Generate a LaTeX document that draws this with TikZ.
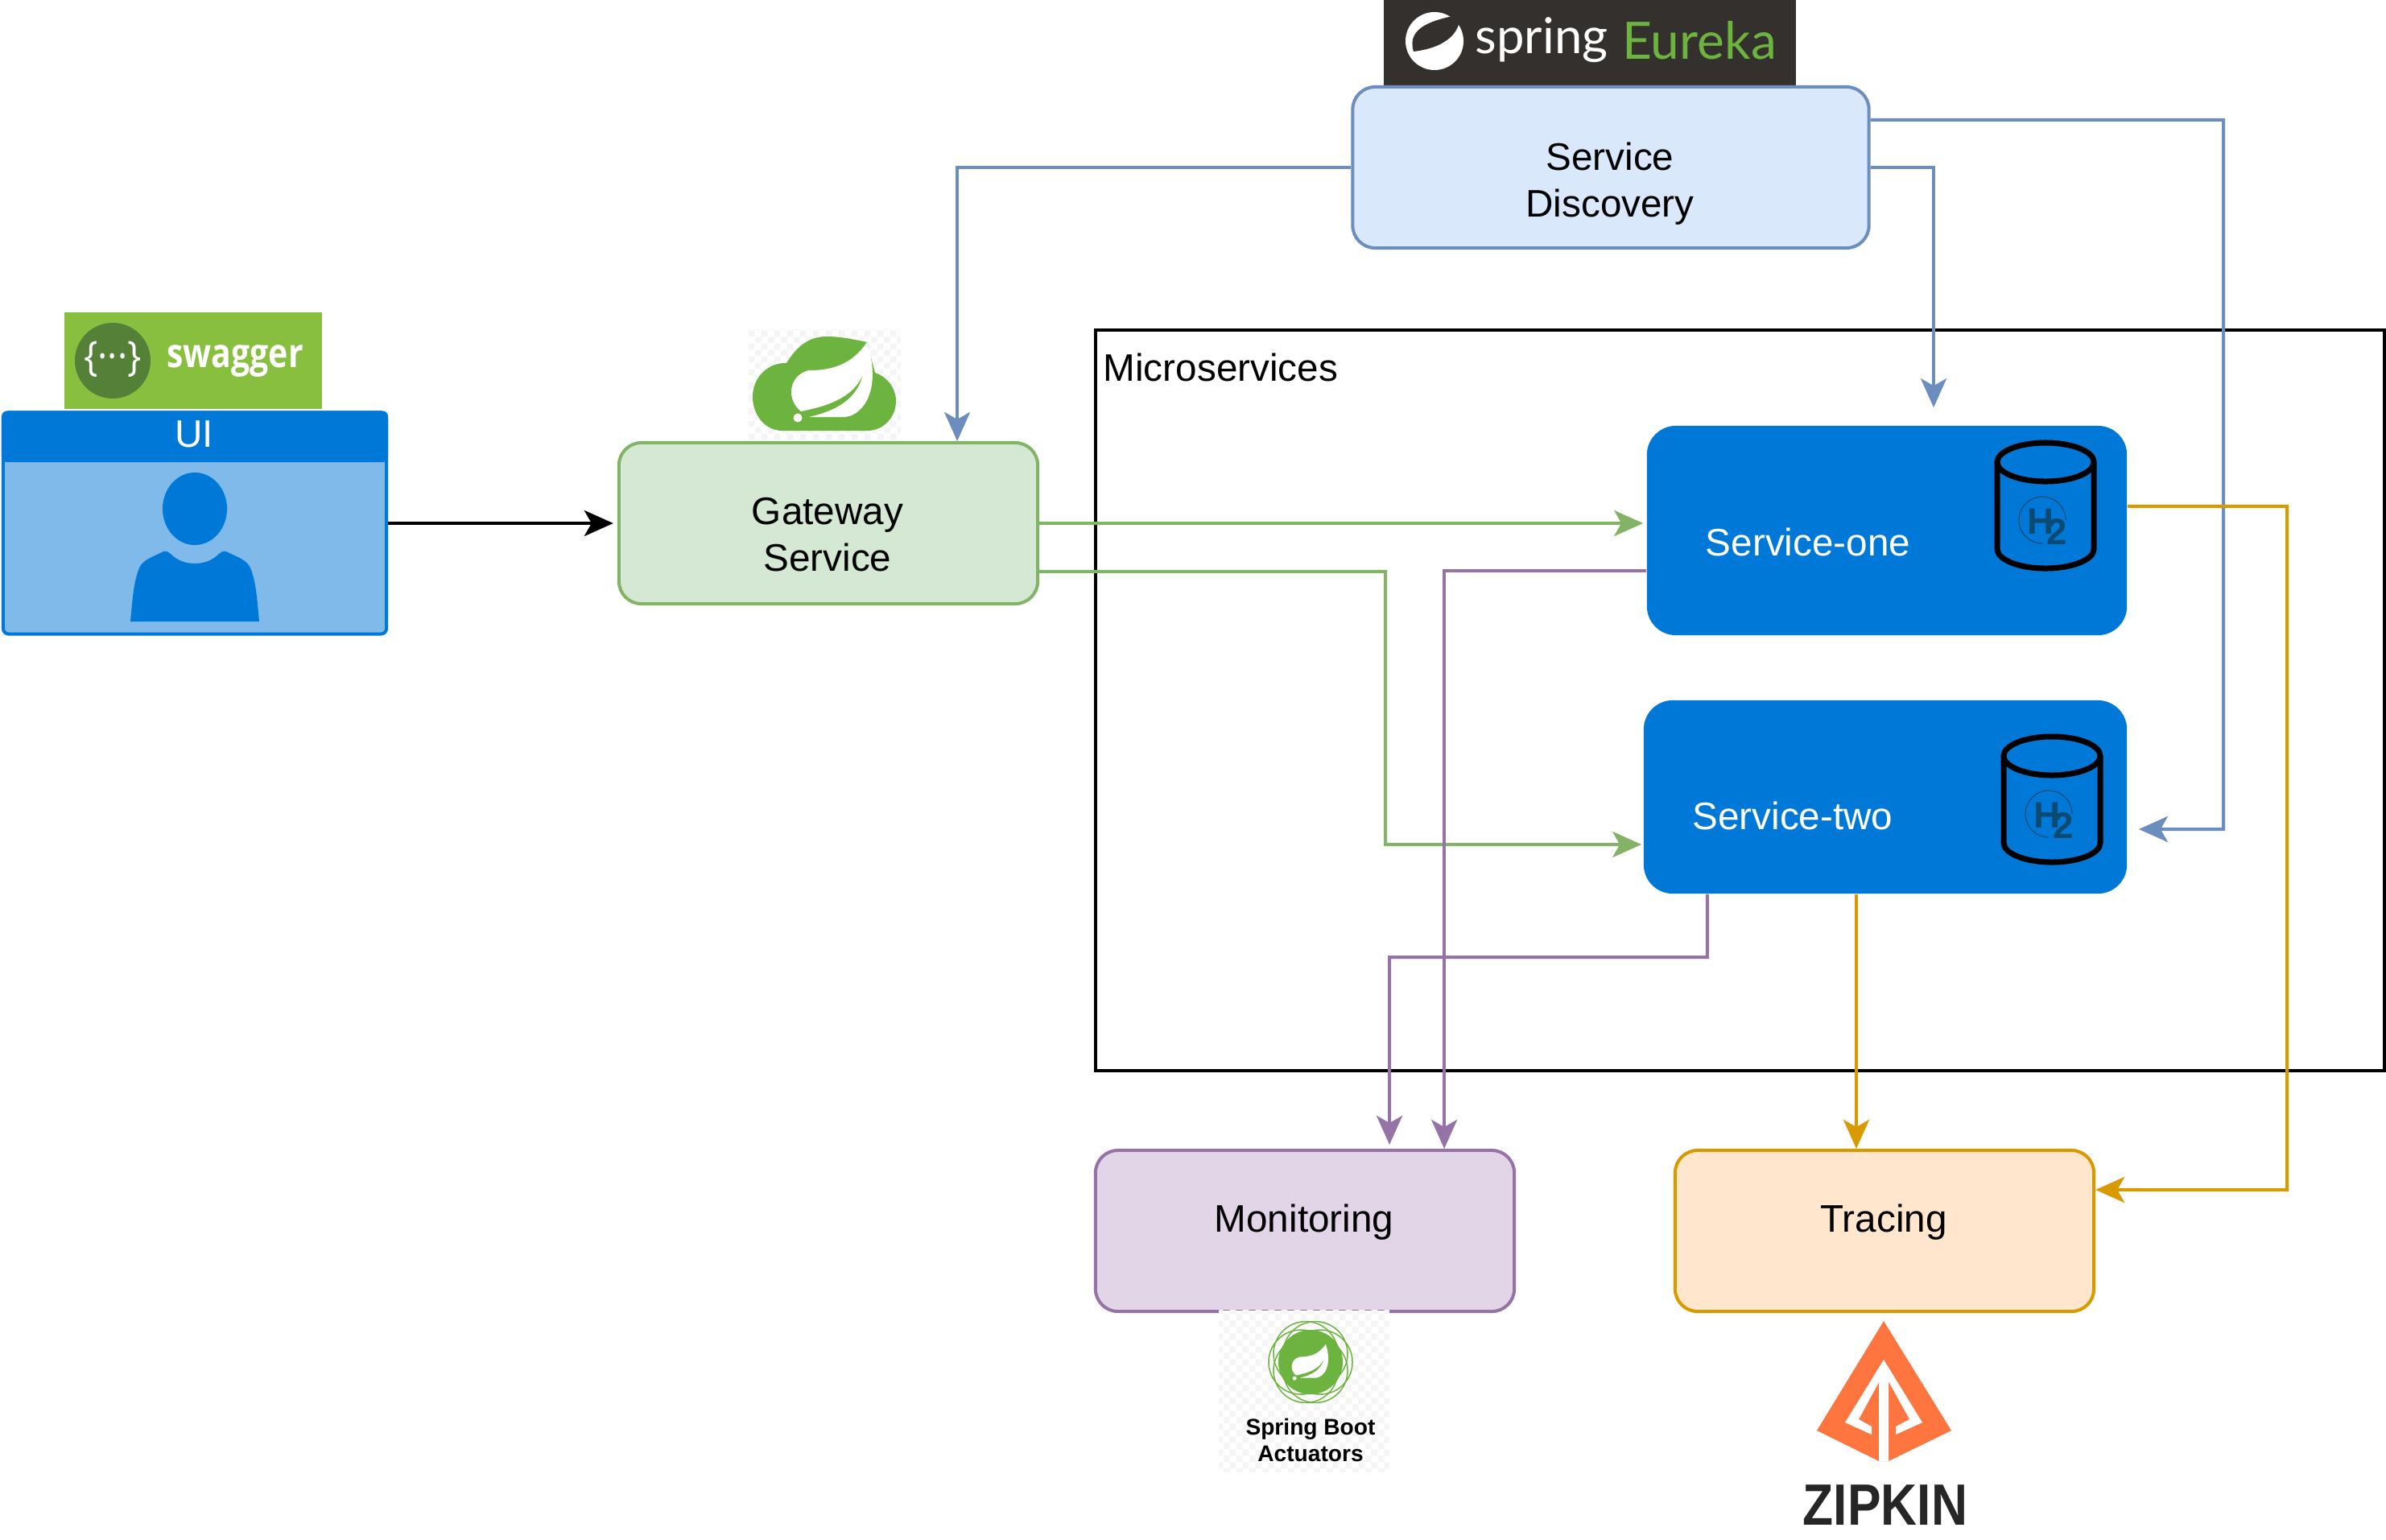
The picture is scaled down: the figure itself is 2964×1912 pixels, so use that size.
\documentclass[tikz,border=0pt]{standalone}
\usepackage{fontspec}
\setmainfont{Liberation Sans}
\newfontfamily\latofont{Lato}
\newfontfamily\opensansfont{Open Sans}
\usepackage{xcolor}
\usepackage{tikz}
\usetikzlibrary{arrows.meta,positioning,patterns}
\definecolor{bluefill}{HTML}{DAE8FC}
\definecolor{blueline}{HTML}{6C8EBF}
\definecolor{greenfill}{HTML}{D5E8D4}
\definecolor{greenline}{HTML}{82B366}
\definecolor{purplefill}{HTML}{E1D5E7}
\definecolor{purpleline}{HTML}{9673A6}
\definecolor{orangefill}{HTML}{FFE6CC}
\definecolor{orangeline}{HTML}{D79B00}
\definecolor{svcblue}{HTML}{0078D7}
\definecolor{svclight}{HTML}{7FBAEA}
\definecolor{springgreen}{HTML}{6DB33F}
\definecolor{eurekabg}{HTML}{34302D}
\definecolor{swaggerbg}{HTML}{89BF3F}
\definecolor{swaggerdark}{HTML}{558038}
\definecolor{zipkinorange}{HTML}{FF7540}
\definecolor{htwoblue}{HTML}{0A4A73}
\pgfdeclarepatternformonly{finecheck}{\pgfqpoint{0pt}{0pt}}{\pgfqpoint{4.6pt}{4.6pt}}{\pgfqpoint{4.6pt}{4.6pt}}{
    \pgfpathrectangle{\pgfqpoint{0pt}{0pt}}{\pgfqpoint{2.3pt}{2.3pt}}
    \pgfpathrectangle{\pgfqpoint{2.3pt}{2.3pt}}{\pgfqpoint{2.3pt}{2.3pt}}
    \pgfusepath{fill}
}

\begin{document}
\begin{tikzpicture}[
    x=0.01cm, y=-0.01cm,
    box/.style={draw, rounded corners=0.28cm, line width=0.04cm, minimum width=#1, minimum height=2cm},
    svcbox/.style={rounded corners=0.36cm, fill=svcblue, minimum width=#1},
    boxtext/.style={align=center, font=\fontsize{13.55}{16.5}\selectfont},
    logopatch/.style={preaction={fill=white}, pattern=finecheck, pattern color=gray!8, inner sep=0pt},
    arr/.style={-{Stealth[length=0.36cm, width=0.32cm, inset=0.09cm]}, line width=0.04cm, line join=miter},
    pics/leafmark/.style={code={
        \fill[#1] (42,-45) .. controls (22,-15) and (-5,-10) .. (-30,-10) .. controls (-54,-5) and (-60,25) .. (-40,41)
            .. controls (-10,35) and (25,25) .. (37,-5) .. controls (30,25) and (5,40) .. (-30,48)
            -- (15,48) .. controls (40,45) and (60,10) .. (42,-45) -- cycle;
        \fill[#1] (-44,49) circle[radius=0.055cm];
    }},
    pics/dbmark/.style={code={
        \draw[line width=0.07cm] (0,-54) ellipse[x radius=0.6cm, y radius=0.24cm];
        \draw[line width=0.07cm] (-60,-54) -- (-60,54) arc[start angle=180, end angle=360, x radius=0.6cm, y radius=0.24cm] -- (60,-54);
    }},
    pics/htwomark/.style={code={
        \draw[htwoblue, line width=0.012cm] (29,0) arc[start angle=0, end angle=270, radius=0.29cm];
        \node[htwoblue, inner sep=0pt, font=\fontsize{13}{13}\bfseries\selectfont] at (-2,2) {H};
        \node[htwoblue, inner sep=0pt, font=\fontsize{13}{13}\bfseries\selectfont] at (18,15) {2};
    }},
]
    \useasboundingbox (0,0) rectangle (2964,1912);

    % Logo above the discovery box
    \node[fill=eurekabg, minimum width=5.11cm, minimum height=1.08cm, inner sep=0pt] (eurekabar) at (1975,53) {};
    \fill[white] (1782,51) circle[radius=0.36cm];
    \fill[eurekabg] (1756,64) .. controls (1746,32) and (1785,24) .. (1814,18) .. controls (1814,45) and (1790,60) .. (1756,64) -- cycle;
    \node[white, inner sep=0pt, font=\latofont\fontsize{17.5}{17.5}\selectfont] (springword) at (1915,50) {spring};
    \node[springgreen, inner sep=0pt, font=\latofont\fontsize{18.2}{18.2}\selectfont] (eurekaword) at (2111,50) {Eureka};

    % Swagger logo
    \node[fill=swaggerbg, minimum width=3.2cm, minimum height=1.2cm, inner sep=0pt] (swaggerbar) at (240,448) {};
    \node[circle, fill=swaggerdark, minimum size=0.94cm, inner sep=0pt] (swaggerdot) at (140,448) {};
    \node[white, inner sep=0pt, xscale=0.9, font=\opensansfont\fontsize{14.5}{14.5}\selectfont] at (140,446) {\{···\}};
    \node[white, inner sep=0pt, xscale=0.82, font=\opensansfont\fontsize{14.2}{14.2}\bfseries\selectfont] (swaggerword) at (292,449) {swagger};

    % UI
    \node[draw=svcblue, fill=svclight, line width=0.04cm, rounded corners=0.07cm, minimum width=4.76cm, minimum height=2.75cm, inner sep=0pt] (ui) at (242,650) {};
    \fill[svcblue, rounded corners=0.07cm] (ui.north west) -- (ui.north east) -- (482,574) -- (2,574) -- cycle;
    \node[boxtext, white, inner sep=0pt] (uitext) at (241,539) {UI};
    \fill[svcblue] (242,632) ellipse[x radius=0.4cm, y radius=0.45cm];
    \fill[svcblue] (162,772) .. controls (165,740) and (166,725) .. (172,708) .. controls (176,695) and (190,692) .. (203,685)
        .. controls (207,684) and (210,686) .. (212,688) .. controls (220,696) and (230,700) .. (242,700)
        .. controls (254,700) and (264,696) .. (272,688) .. controls (274,686) and (277,684) .. (281,685)
        .. controls (294,692) and (308,695) .. (312,708) .. controls (318,725) and (319,740) .. (322,772) -- cycle;

    % Spring cloud logo
    \node[logopatch, minimum width=1.89cm, minimum height=1.37cm] (cloudpatch) at (1024.5,478) {};
    \fill[springgreen] (972,535) .. controls (950,535) and (935,515) .. (935,493) .. controls (935,468) and (955,450) .. (977,451)
        .. controls (990,430) and (1005,418) .. (1027,418) .. controls (1045,418) and (1062,422) .. (1077,425)
        -- (1087,463) .. controls (1102,468) and (1113,482) .. (1113,498) .. controls (1113,518) and (1098,535) .. (1077,535) -- cycle;
    \pic at (1035,470) {leafmark=white};

    % Boxes
    \node[box=5.2cm, draw=greenline, fill=greenfill] (gateway) at (1029,650) {};
    \node[boxtext] (gatewaytext) at (1028,664) {Gateway\\Service};
    \node[box=6.41cm, draw=blueline, fill=bluefill] (disc) at (2001,208) {};
    \node[boxtext] (disctext) at (2000,228) {Service\\Discovery};
    \node[draw=black, line width=0.04cm, minimum width=16cm, minimum height=9.19cm] (micro) at (2161,870) {};
    \node[boxtext, anchor=west, inner sep=0pt] (microtext) at (1370,456) {Microservices};

    % Services
    \node[svcbox=5.96cm, minimum height=2.6cm] (svcone) at (2344,659) {};
    \node[boxtext, white, inner sep=0pt] (svconetext) at (2246,673) {Service-one};
    \node[svcbox=6cm, minimum height=2.4cm] (svctwo) at (2342,990) {};
    \node[boxtext, white, inner sep=0pt] (svctwotext) at (2227,1013) {Service-two};
    \pic at (2541,628) {dbmark};
    \pic at (2549,993) {dbmark};
    \pic at (2537,646) {htwomark};
    \pic at (2545,1011) {htwomark};

    \node[box=5.2cm, draw=purpleline, fill=purplefill] (monitor) at (1621,1529) {};
    \node[boxtext] (monitortext) at (1620,1518) {Monitoring};
    \node[box=5.2cm, draw=orangeline, fill=orangefill] (tracing) at (2341,1529) {};
    \node[boxtext] (tracingtext) at (2340,1518) {Tracing};

    % Actuators logo
    \node[logopatch, minimum width=2.11cm, minimum height=2cm] (actpatch) at (1620,1728) {};
    \fill[springgreen] (1628,1692) circle[radius=0.4cm];
    \foreach \a in {0,60,...,300}
        \draw[springgreen, line width=0.015cm] ([shift={(\a:0.12cm)}]1628,1692) circle[radius=0.4cm];
    \pic[scale=0.45] at (1628,1690) {leafmark=white};
    \node[inner sep=0pt, align=center, font=\fontsize{8}{9.6}\bfseries\selectfont] (acttext) at (1628,1789) {Spring Boot\\Actuators};

    % Zipkin logo
    \fill[zipkinorange] (2340,1641) -- (2424,1777) -- (2346,1815) -- (2334,1815) -- (2257,1777) -- cycle;
    \fill[white] (2340,1689) -- (2388,1767) -- (2355,1782) -- (2355,1772) -- (2372,1763) -- (2346,1716) -- (2346,1815)
        -- (2334,1815) -- (2334,1717) -- (2309,1763) -- (2325,1772) -- (2325,1782) -- (2292,1767) -- cycle;
    \node[inner sep=0pt, text=black!85, xscale=0.86, font=\fontsize{20.6}{20.6}\bfseries\selectfont] (zipkinword) at (2342,1870) {ZIPKIN};

    % Connectors
    \coordinate (discturn) at (2762,1030);
    \coordinate (gwturn) at (1721,1049);
    \coordinate (twoturn) at (1726,1189);
    \coordinate (oneturn) at (2841,1478);

    \draw[arr] (ui.east) -- ([xshift=-0.05cm]gateway.west);

    \draw[arr, blueline] (disc.west) -| ([xshift=1.6cm]gateway.north);
    \draw[arr, blueline] (disc.east) -| ([xshift=0.58cm, yshift=0.22cm]svcone.north);
    \draw[arr, blueline] ([yshift=0.59cm]disc.east) -| (discturn) -- ([xshift=0.14cm, yshift=-0.4cm]svctwo.east);

    \draw[arr, greenline] (gateway.east) -- ([xshift=-0.04cm, yshift=0.09cm]svcone.west);
    \draw[arr, greenline] ([yshift=-0.6cm]gateway.east) -| (gwturn) -- ([xshift=-0.02cm, yshift=-0.59cm]svctwo.west);

    \draw[arr, purpleline] ([yshift=-0.5cm]svcone.west) -| ([xshift=1.73cm]monitor.north);
    \draw[arr, purpleline] ([xshift=-2.21cm]svctwo.south) |- (twoturn) -- ([xshift=1.05cm, yshift=0.05cm]monitor.north);

    \draw[arr, orangeline] ([xshift=-0.36cm]svctwo.south) -- ([xshift=-0.35cm]tracing.north);
    \draw[arr, orangeline] ([yshift=0.3cm]svcone.east) -| (oneturn) -- ([yshift=0.51cm]tracing.east);
\end{tikzpicture}
\end{document}
